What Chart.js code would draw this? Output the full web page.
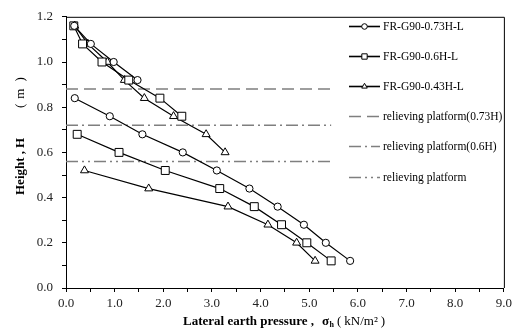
<!DOCTYPE html>
<html>
<head>
<meta charset="utf-8">
<script src="https://cdn.jsdelivr.net/npm/chart.js@4/dist/chart.umd.min.js"></script>
<style>
  html, body { margin: 0; padding: 0; background: #fff; }
  #wrap { position: relative; width: 516px; height: 336px; }
</style>
</head>
<body>
<div id="wrap"><canvas id="c" width="516" height="336"></canvas></div>
<script>
// ---- Data ----
const seriesLabels = ['FR-G90-0.73H-L', 'FR-G90-0.6H-L', 'FR-G90-0.43H-L'];
// null marks a break in the line (at the relieving platform)
const circleX = [0.17, 0.51, 0.98, 1.47, null, 0.18, 0.90, 1.57, 2.40, 3.10, 3.77, 4.35, 4.89, 5.34, 5.84];
const circleH = [1.16, 1.08, 1.00, 0.92, null, 0.84, 0.76, 0.68, 0.60, 0.52, 0.44, 0.36, 0.28, 0.20, 0.12];
const squareX = [0.16, 0.34, 0.74, 1.29, 1.93, 2.38, null, 0.23, 1.09, 2.04, 3.16, 3.87, 4.43, 4.95, 5.45];
const squareH = [1.16, 1.08, 1.00, 0.92, 0.84, 0.76, null, 0.68, 0.60, 0.52, 0.44, 0.36, 0.28, 0.20, 0.12];
const triX    = [0.18, 0.45, 0.85, 1.20, 1.61, 2.21, 2.88, 3.27, null, 0.38, 1.70, 3.33, 4.15, 4.74, 5.12];
const triH    = [1.16, 1.08, 1.00, 0.92, 0.84, 0.76, 0.68, 0.60, null, 0.52, 0.44, 0.36, 0.28, 0.20, 0.12];

const platformLabels = ['relieving platform(0.73H)', 'relieving platform(0.6H)', 'relieving platform'];
const platformH = [0.88, 0.72, 0.56];
const platformX = [0.0, 5.45];

// Axis titles (pieces, so that bold / subscript parts can differ)
const xTitleBold = 'Lateral earth pressure ,';
const xTitleSym = 'σ';
const xTitleSub = 'h';
const xTitleUnit = ['(', 'kN/m²', ')'];
const yTitleBold = 'Height ,';
const yTitleSym = 'H';
const yTitleUnit = ['(', 'm', ')'];

// ---- Build datasets ----
function pts(xs, ys) {
  const out = [];
  let lastX = 0;
  for (let i = 0; i < xs.length; i++) {
    if (xs[i] === null || ys[i] === null) out.push({ x: lastX, y: null });
    else { out.push({ x: xs[i], y: ys[i] }); lastX = xs[i]; }
  }
  return out;
}
const dashes = [[12, 6], [12, 4, 2, 4], [12, 4, 2, 4, 2, 4]];
const markers = ['circle', 'rect', 'triangle'];
const radii = [3.6, 5.6, 4.6];
const seriesData = [pts(circleX, circleH), pts(squareX, squareH), pts(triX, triH)];

const datasets = [];
for (let i = 0; i < 3; i++) {
  datasets.push({
    label: seriesLabels[i],
    data: seriesData[i],
    borderColor: '#000',
    borderWidth: 1.2,
    pointStyle: markers[i],
    pointRadius: radii[i],
    pointBackgroundColor: '#fff',
    pointBorderColor: '#000',
    pointBorderWidth: 1,
    spanGaps: false,
    showLine: true,
    fill: false,
    tension: 0,
    order: 1,
    _legendKind: 'series',
    _legendMarker: markers[i]
  });
}
for (let i = 0; i < 3; i++) {
  datasets.push({
    label: platformLabels[i],
    data: platformX.map(x => ({ x: x, y: platformH[i] })),
    borderColor: '#7f7f7f',
    borderWidth: 1.5,
    borderDash: dashes[i],
    pointRadius: 0,
    showLine: true,
    fill: false,
    order: 2,
    _legendKind: 'platform'
  });
}

const SERIF = '"Liberation Serif", "Times New Roman", serif';

// ---- Plugins ----
const framePlugin = {
  id: 'frame',
  afterDraw(chart) {
    const { ctx, chartArea: a } = chart;
    ctx.save();
    ctx.strokeStyle = '#000';
    ctx.lineWidth = 1;
    ctx.beginPath();
    ctx.moveTo(a.left, a.top + 0.5);
    ctx.lineTo(a.right + 0.5, a.top + 0.5);
    ctx.lineTo(a.right + 0.5, a.bottom);
    ctx.stroke();
    ctx.restore();
  }
};

const legendPlugin = {
  id: 'customLegend',
  afterDraw(chart) {
    const { ctx } = chart;
    const x0 = 349, x1 = 380, tx = 383;
    const rowY = [26, 56, 86, 116, 146, 177];
    ctx.save();
    ctx.font = '11.5px ' + SERIF;
    ctx.textBaseline = 'middle';
    ctx.textAlign = 'left';
    chart.data.datasets.forEach((ds, i) => {
      const y = rowY[i];
      ctx.save();
      ctx.strokeStyle = ds.borderColor;
      ctx.lineWidth = ds._legendKind === 'series' ? 1.6 : 1.5;
      ctx.setLineDash(ds.borderDash || []);
      ctx.beginPath();
      ctx.moveTo(x0, y + 0.5);
      ctx.lineTo(x1, y + 0.5);
      ctx.stroke();
      ctx.restore();
      if (ds._legendKind === 'series') {
        ctx.save();
        ctx.fillStyle = '#fff';
        ctx.strokeStyle = '#000';
        ctx.lineWidth = 1;
        const r = ds._legendMarker === 'rect' ? 3.8 : (ds._legendMarker === 'triangle' ? 3.2 : 2.8);
        Chart.helpers.drawPoint(ctx, { pointStyle: ds._legendMarker, radius: r, rotation: 0, borderWidth: 1 }, (x0 + x1) / 2, y + 0.5);
        ctx.restore();
      }
      ctx.fillStyle = '#000';
      ctx.fillText(ds.label, tx, y + 1);
    });
    ctx.restore();
  }
};

const titlesPlugin = {
  id: 'titles',
  afterDraw(chart) {
    const { ctx } = chart;
    ctx.save();
    ctx.fillStyle = '#000';
    ctx.textBaseline = 'alphabetic';
    ctx.textAlign = 'left';
    // X title (pieces placed left to right)
    const by = 325;
    let x = 183;
    ctx.font = 'bold 13px ' + SERIF;
    ctx.fillText(xTitleBold, x, by);
    x = 322;
    ctx.fillText(xTitleSym, x, by);
    x += ctx.measureText(xTitleSym).width + 0.5;
    ctx.font = 'bold 8px ' + SERIF;
    ctx.fillText(xTitleSub, x, by + 2);
    ctx.font = '13px ' + SERIF;
    x = 337;
    ctx.fillText(xTitleUnit[0], x, by);
    x += ctx.measureText(xTitleUnit[0]).width + 3;
    ctx.fillText(xTitleUnit[1], x, by);
    x += ctx.measureText(xTitleUnit[1]).width + 3;
    ctx.fillText(xTitleUnit[2], x, by);

    // Y title (rotated, pieces placed bottom to top)
    ctx.save();
    ctx.translate(24, 0);
    ctx.rotate(-Math.PI / 2);
    ctx.font = 'bold 13px ' + SERIF;
    ctx.fillText(yTitleBold, -195, 0);
    ctx.fillText(yTitleSym, -148, 0);
    ctx.font = '13px ' + SERIF;
    let yx = -108;
    ctx.fillText(yTitleUnit[0], yx, 0);
    yx += ctx.measureText(yTitleUnit[0]).width + 5;
    ctx.fillText(yTitleUnit[1], yx, 0);
    yx += ctx.measureText(yTitleUnit[1]).width + 7;
    ctx.fillText(yTitleUnit[2], yx, 0);
    ctx.restore();
    ctx.restore();
  }
};

Chart.defaults.font.family = SERIF;
Chart.defaults.font.size = 13;
Chart.defaults.color = '#222';

new Chart(document.getElementById('c'), {
  type: 'scatter',
  data: { datasets: datasets },
  options: {
    responsive: false,
    animation: false,
    devicePixelRatio: 1,
    layout: { padding: { left: 0, right: 11, top: 10, bottom: 0 } },
    plugins: {
      legend: { display: false },
      tooltip: { enabled: false }
    },
    scales: {
      x: {
        type: 'linear',
        min: 0, max: 9,
        afterFit(s) { s.height = 48; },
        ticks: {
          stepSize: 0.5,
          autoSkip: false,
          maxRotation: 0,
          padding: 4,
          callback: v => (Math.round(v * 10) % 10 === 0 ? v.toFixed(1) : '')
        },
        grid: { display: true, drawOnChartArea: false, drawTicks: true, tickLength: 4, color: '#000', tickColor: '#000' },
        border: { display: true, color: '#000', width: 1 }
      },
      y: {
        type: 'linear',
        min: 0, max: 1.2,
        afterFit(s) { s.width = 66; },
        ticks: {
          stepSize: 0.1,
          autoSkip: false,
          padding: 9,
          callback: v => (Math.round(v * 10) % 2 === 0 ? v.toFixed(1) : '')
        },
        grid: { display: true, drawOnChartArea: false, drawTicks: true, tickLength: 4, color: '#000', tickColor: '#000' },
        border: { display: true, color: '#000', width: 1 }
      }
    }
  },
  plugins: [framePlugin, legendPlugin, titlesPlugin]
});
</script>
</body>
</html>
